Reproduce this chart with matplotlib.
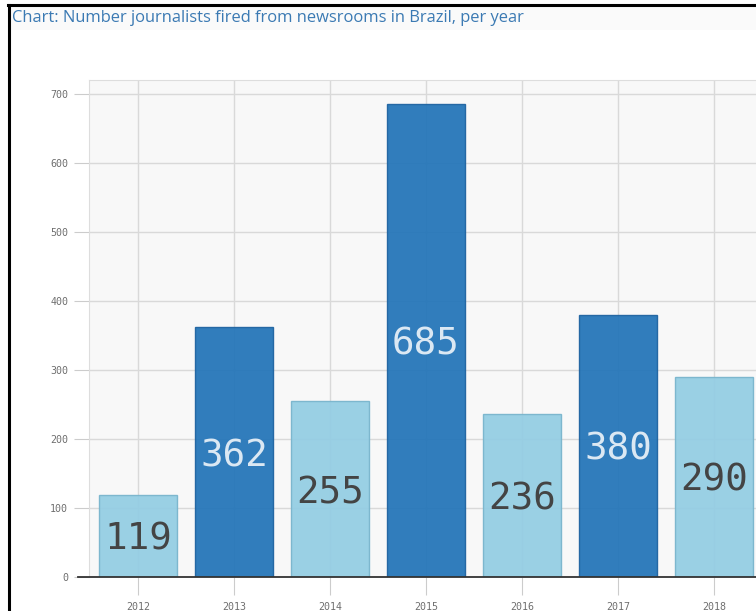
import matplotlib.pyplot as plt
from matplotlib.lines import Line2D
from matplotlib.patches import Rectangle

# journalists fired from newsrooms in Brazil, per year
years = [2012, 2013, 2014, 2015, 2016, 2017, 2018]
fired = [119, 362, 255, 685, 236, 380, 290]
y_ticks = [0, 100, 200, 300, 400, 500, 600, 700]

LIGHT = '#93cde3'
LIGHT_EDGE = '#78b4cc'
DARK = '#2274b8'
DARK_EDGE = '#1d62a0'

W, H = 756, 611
fig = plt.figure(figsize=(W / 100, H / 100), dpi=100)

# frame around the widget and the title strip
fig.add_artist(Rectangle((10 / W, 1 - 30 / H), 1, 24 / H, transform=fig.transFigure,
                         facecolor='#fafafa', edgecolor='none'))
fig.add_artist(Line2D([9 / W, 9 / W], [0, 1 - 5 / H], transform=fig.transFigure,
                      color='black', lw=2.2))
fig.add_artist(Line2D([8 / W, 1], [1 - 5 / H, 1 - 5 / H], transform=fig.transFigure,
                      color='black', lw=2.2))
fig.text(12 / W, 1 - 18 / H, 'Chart: Number journalists fired from newsrooms in Brazil, per year',
         fontsize=11.9, family='Open Sans', color='#3b7ab3', va='center', ha='left')

# plot area runs past the right edge of the figure
left, right, top, bottom = 89, 790, 80, 577
ax = fig.add_axes([left / W, (H - bottom) / H, (right - left) / W, (bottom - top) / H])
ax.set_facecolor('#f8f8f8')
ax.set_xlim(2012 - 49 / 96, 2012 + (right - 138) / 96)
ax.set_ylim(0, (bottom - top) / 0.69)

colors = [LIGHT if i % 2 == 0 else DARK for i in range(len(years))]
edges = [LIGHT_EDGE if i % 2 == 0 else DARK_EDGE for i in range(len(years))]
ax.bar(years, fired, width=0.81, color=colors, edgecolor=edges, linewidth=1,
       alpha=0.93, zorder=2)

for i, (yr, v) in enumerate(zip(years, fired)):
    ax.text(yr, v / 2, str(v), ha='center', va='center_baseline', fontsize=27,
            family='DejaVu Sans Mono',
            color='#444444' if i % 2 == 0 else '#dbe8f3', zorder=4)

ax.set_xticks(years)
ax.set_xticklabels([str(y) for y in years])
ax.set_yticks(y_ticks)
ax.set_yticklabels([str(t) for t in y_ticks])
ax.grid(True, color='#d9d9d9', lw=1, zorder=0)
ax.set_axisbelow(True)
ax.tick_params(axis='y', length=11, color='#cccccc', labelsize=7.2,
               labelcolor='#6f6f6f', pad=4)
ax.tick_params(axis='x', length=13, color='#cccccc', labelsize=7.2,
               labelcolor='#6f6f6f', pad=5)
for lab in ax.get_xticklabels() + ax.get_yticklabels():
    lab.set_family('DejaVu Sans Mono')

for s in ['top', 'left', 'right']:
    ax.spines[s].set_color('#dddddd')
ax.spines['bottom'].set_visible(False)
# baseline at zero, extending out over the tick marks
x0, x1 = ax.get_xlim()
ax.plot([x0 - 11 / 96, x1], [0, 0], color='#333333', lw=1.3, clip_on=False, zorder=3)

fig.savefig('out.png', dpi=100)
